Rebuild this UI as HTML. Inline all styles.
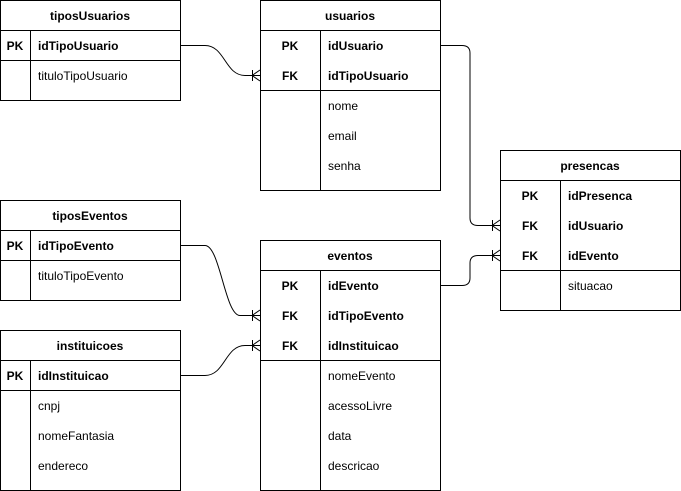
<!DOCTYPE html>
<html><head><meta charset="utf-8"><style>body{margin:0;background:#fff}svg{display:block}text{font-family:"Liberation Sans",Arial,sans-serif;font-size:12px;fill:#000}.b{font-weight:bold}</style></head><body>
<svg width="681" height="491" viewBox="0 0 681 491" xmlns="http://www.w3.org/2000/svg">
<g fill="none" stroke="#000" stroke-width="1">
<!-- tiposUsuarios -->
<rect x="0.5" y="0.5" width="180" height="100"/><line x1="0" y1="30.5" x2="181" y2="30.5"/><line x1="0" y1="60.5" x2="181" y2="60.5"/><line x1="30.5" y1="30" x2="30.5" y2="100"/>
<!-- usuarios -->
<rect x="260.5" y="0.5" width="180" height="190"/><line x1="260" y1="30.5" x2="441" y2="30.5"/><line x1="260" y1="90.5" x2="441" y2="90.5"/><line x1="320.5" y1="30" x2="320.5" y2="190"/>
<!-- presencas -->
<rect x="500.5" y="150.5" width="180" height="160"/><line x1="500" y1="180.5" x2="681" y2="180.5"/><line x1="500" y1="270.5" x2="681" y2="270.5"/><line x1="560.5" y1="180" x2="560.5" y2="310"/>
<!-- tiposEventos -->
<rect x="0.5" y="200.5" width="180" height="100"/><line x1="0" y1="230.5" x2="181" y2="230.5"/><line x1="0" y1="260.5" x2="181" y2="260.5"/><line x1="30.5" y1="230" x2="30.5" y2="300"/>
<!-- eventos -->
<rect x="260.5" y="240.5" width="180" height="250"/><line x1="260" y1="270.5" x2="441" y2="270.5"/><line x1="260" y1="360.5" x2="441" y2="360.5"/><line x1="320.5" y1="270" x2="320.5" y2="490"/>
<!-- instituicoes -->
<rect x="0.5" y="330.5" width="180" height="160"/><line x1="0" y1="360.5" x2="181" y2="360.5"/><line x1="0" y1="390.5" x2="181" y2="390.5"/><line x1="30.5" y1="360" x2="30.5" y2="490"/>
<!-- connectors -->
<path d="M181 45.5 H205 C225 45.5 225 75.5 245 75.5 H260"/>
<path d="M441 45.5 H462 Q470 45.5 470 53 V218 Q470 225.5 478 225.5 H500"/>
<path d="M441 285.5 H462 Q470 285.5 470 278 V263 Q470 255.5 478 255.5 H500"/>
<path d="M181 245.5 H205 C220 245.5 225 315.5 240 315.5 H260"/>
<path d="M181 375.5 H205 C225 375.5 225 345.5 245 345.5 H260"/>
<!-- crow feet -->
<path d="M252.5 70 V81 M252 75.5 L260 70 M252 75.5 L260 81"/>
<path d="M252.5 310 V321 M252 315.5 L260 310 M252 315.5 L260 321"/>
<path d="M252.5 340 V351 M252 345.5 L260 340 M252 345.5 L260 351"/>
<path d="M492.5 220 V231 M492 225.5 L500 220 M492 225.5 L500 231"/>
<path d="M492.5 250 V261 M492 255.5 L500 250 M492 255.5 L500 261"/>
</g>
<g text-anchor="middle" class="b">
<text x="90" y="20" class="b">tiposUsuarios</text>
<text x="350" y="20" class="b">usuarios</text>
<text x="590" y="170" class="b">presencas</text>
<text x="90" y="220" class="b">tiposEventos</text>
<text x="350" y="260" class="b">eventos</text>
<text x="90" y="350" class="b">instituicoes</text>
<text x="15" y="50" class="b">PK</text>
<text x="290" y="50" class="b">PK</text><text x="290" y="80" class="b">FK</text>
<text x="530" y="200" class="b">PK</text><text x="530" y="230" class="b">FK</text><text x="530" y="260" class="b">FK</text>
<text x="15" y="250" class="b">PK</text>
<text x="290" y="290" class="b">PK</text><text x="290" y="320" class="b">FK</text><text x="290" y="350" class="b">FK</text>
<text x="15" y="380" class="b">PK</text>
</g>
<g>
<text x="38" y="50" class="b">idTipoUsuario</text><text x="38" y="80">tituloTipoUsuario</text>
<text x="328" y="50" class="b">idUsuario</text><text x="328" y="80" class="b">idTipoUsuario</text>
<text x="328" y="110">nome</text><text x="328" y="140">email</text><text x="328" y="170">senha</text>
<text x="568" y="200" class="b">idPresenca</text><text x="568" y="230" class="b">idUsuario</text><text x="568" y="260" class="b">idEvento</text><text x="568" y="290">situacao</text>
<text x="38" y="250" class="b">idTipoEvento</text><text x="38" y="280">tituloTipoEvento</text>
<text x="328" y="290" class="b">idEvento</text><text x="328" y="320" class="b">idTipoEvento</text><text x="328" y="350" class="b">idInstituicao</text>
<text x="328" y="380">nomeEvento</text><text x="328" y="410">acessoLivre</text><text x="328" y="440">data</text><text x="328" y="470">descricao</text>
<text x="38" y="380" class="b">idInstituicao</text><text x="38" y="410">cnpj</text><text x="38" y="440">nomeFantasia</text><text x="38" y="470">endereco</text>
</g>
</svg>
</body></html>
